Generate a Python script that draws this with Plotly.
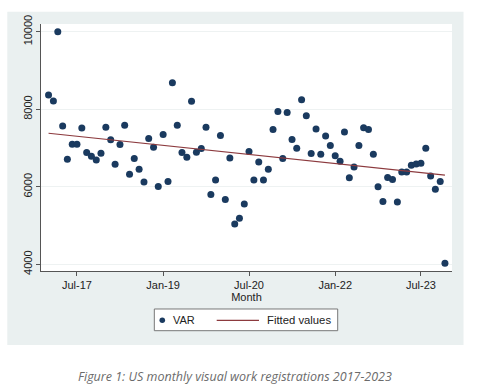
import numpy as np
import pandas as pd
import plotly.graph_objects as go

# ---- data ----
start_month = "2017-01-01"
values = [
    8366, 8213, 10000, 7567, 6710, 7100, 7100, 7515, 6883, 6788, 6693, 6866,   # 2017
    7533, 7212, 6580, 7091, 7585, 6320, 6727, 6450, 6121, 7247, 7022, 6009,   # 2018
    7351, 6139, 8681, 7585, 6883, 6762, 8204, 6892, 6987, 7533, 5801, 6173,   # 2019
    7325, 5671, 6745, 5039, 5186, 5558, 6909, 6173, 6641, 6173, 6450, 7480,   # 2020
    7940, 6727, 7915, 7221, 6996, 8247, 7830, 6857, 7489, 6840, 7307, 7065,   # 2021
    6797, 6658, 7411, 6234, 6511, 7065, 7524, 7480, 6840, 6000, 5619, 6242,   # 2022
    6190, 5610, 6381, 6381, 6554, 6589, 6606, 6996, 6277, 5939, 6139, 4026,   # 2023
]
months = pd.date_range(start_month, periods=len(values), freq="MS")
tick_dates = ["2017-07-01", "2019-01-01", "2020-07-01", "2022-01-01", "2023-07-01"]
tick_labels = ["Jul-17", "Jan-19", "Jul-20", "Jan-22", "Jul-23"]
y_ticks = [4000, 6000, 8000, 10000]
y_tick_labels = ["4000", "6000", "8000", "10000"]
legend_labels = ["VAR", "Fitted values"]
caption = "Figure 1: US monthly visual work registrations 2017-2023"

# fitted values (OLS on month index)
idx = np.arange(len(values))
slope, intercept = np.polyfit(idx, values, 1)
fitted = intercept + slope * idx

FONT = "Liberation Sans, Arial, sans-serif"
NAVY = "#1a3a5f"
MAROON = "#8c3a3e"
BG = "#eaf0f0"
TXT = "#222"

fig = go.Figure()
fig.add_trace(go.Scatter(
    x=months, y=values, mode="markers", name=legend_labels[0],
    marker=dict(color=NAVY, size=7, line=dict(width=0)), showlegend=False,
))
fig.add_trace(go.Scatter(
    x=[months[0], months[-1]], y=[fitted[0], fitted[-1]], mode="lines",
    name=legend_labels[1], line=dict(color=MAROON, width=1.2), showlegend=False,
))

# background panel (Stata style)
fig.add_shape(type="rect", xref="paper", yref="paper",
              x0=-0.082, x1=1.028, y0=-0.2996, y1=1.0498,
              fillcolor=BG, line=dict(width=0), layer="below")
fig.add_shape(type="rect", xref="paper", yref="paper",
              x0=0, x1=1, y0=0, y1=1,
              fillcolor="white", line=dict(width=0), layer="below")

# legend (drawn box, Stata style)
LY = -0.1996
fig.add_shape(type="rect", xref="paper", yref="paper",
              x0=0.2757, x1=0.7219, y0=-0.2417, y1=-0.1538,
              fillcolor="white", line=dict(color="#777", width=1))
fig.add_shape(type="circle", xref="paper", yref="paper",
              x0=0.2951 - 0.0068, x1=0.2951 + 0.0068, y0=LY - 0.0113, y1=LY + 0.0113,
              fillcolor=NAVY, line=dict(width=0))
fig.add_shape(type="line", xref="paper", yref="paper",
              x0=0.4275, x1=0.5304, y0=LY, y1=LY,
              line=dict(color=MAROON, width=1.2))
fig.add_annotation(text=legend_labels[0], xref="paper", yref="paper",
                   x=0.3170, y=LY, xanchor="left", yanchor="middle", showarrow=False,
                   font=dict(family=FONT, size=11, color=TXT))
fig.add_annotation(text=legend_labels[1], xref="paper", yref="paper",
                   x=0.5457, y=LY, xanchor="left", yanchor="middle", showarrow=False,
                   font=dict(family=FONT, size=11.3, color=TXT))

fig.add_annotation(
    text="<i>" + caption + "</i>",
    xref="paper", yref="paper", x=0.4732, y=-0.4291, xanchor="center", yanchor="middle",
    showarrow=False, font=dict(family="Open Sans, sans-serif", size=12.5, color="#6b6b6b"),
)

fig.update_layout(
    width=480, height=387,
    margin=dict(l=41, r=28, t=24, b=116),
    paper_bgcolor="white", plot_bgcolor="white",
    font=dict(family=FONT, color=TXT, size=11),
    showlegend=False,
    xaxis=dict(
        type="date", range=["2016-11-14", "2024-01-15"],
        tickvals=tick_dates, ticktext=tick_labels,
        showgrid=False, zeroline=False,
        showline=True, linecolor="#555", linewidth=1,
        ticks="outside", ticklen=4, tickcolor="#555",
        tickfont=dict(size=11),
        title=dict(text="Month", font=dict(size=11), standoff=2),
    ),
    yaxis=dict(
        range=[3827, 10199], tickvals=y_ticks, ticktext=y_tick_labels,
        showgrid=True, gridcolor="#eef2f2", gridwidth=1, zeroline=False,
        showline=True, linecolor="#555", linewidth=1,
        ticks="outside", ticklen=4, tickcolor="#555",
        tickangle=-90, tickfont=dict(size=11),
    ),
)

fig.write_html("out.html", config={"displayModeBar": False},
               post_script="document.body.style.margin='0';")
